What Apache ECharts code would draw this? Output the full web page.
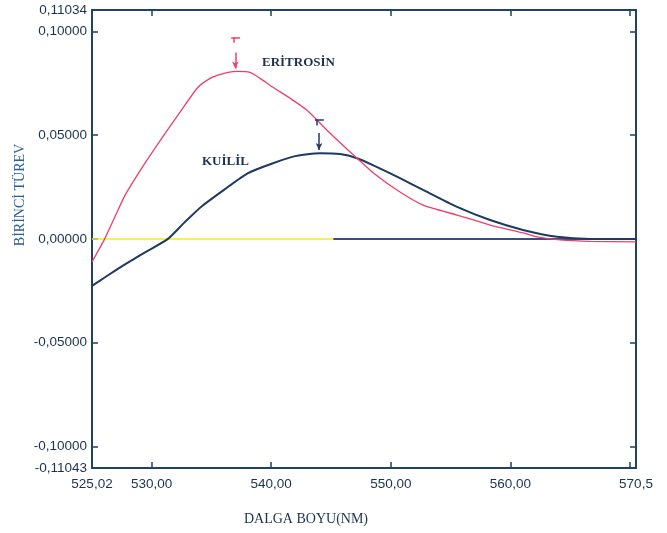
<!DOCTYPE html>
<html>
<head>
<meta charset="utf-8">
<script src="https://cdn.jsdelivr.net/npm/echarts@6/dist/echarts.min.js"></script>
<style>
  html, body { margin: 0; padding: 0; background: #ffffff; }
  #chart { width: 667px; height: 533px; }
</style>
</head>
<body>
<div id="chart"></div>
<script>
// Wavelength range (nm) and first-derivative range
const xMin = 525.02, xMax = 570.5;
const yMin = -0.11043, yMax = 0.11034;

// Tick positions and the label texts printed at the axis ends
const xTickValues = [530, 540, 550, 560, 570];
const xLabelValues = [525.02, 530, 540, 550, 560, 570.5];
const xLabelTexts = ['525,02', '530,00', '540,00', '550,00', '560,00', '570,5'];
const yTickValues = [-0.1, -0.05, 0, 0.05, 0.1];
const yLabelValues = [-0.11043, -0.1, -0.05, 0, 0.05, 0.1, 0.11034];
const yLabelTexts = ['-0,11043', '-0,10000', '-0,05000', '0,00000', '0,05000', '0,10000', '0,11034'];

// Erythrosine first-derivative spectrum
const eritrosinX = [525.02, 526.08, 526.94, 527.78, 529.45, 531.12, 532.38, 533.88, 534.89, 535.55, 536.39, 537.14, 538.23, 539.07, 540.15, 541.58, 543.00, 544.67, 546.17, 547.18, 548.68, 550.77, 552.70, 555.54, 558.30, 561.06, 562.23, 564.15, 566.66, 570.5];
const eritrosinY = [-0.0111, 0.0, 0.0107, 0.0210, 0.0365, 0.0508, 0.0611, 0.0731, 0.0774, 0.0790, 0.0803, 0.0808, 0.0803, 0.0774, 0.0731, 0.0678, 0.0620, 0.0524, 0.0442, 0.0389, 0.0312, 0.0226, 0.0163, 0.0115, 0.0067, 0.0029, 0.0010, -0.0005, -0.0012, -0.0014];

// Quinoline yellow first-derivative spectrum
const kuililX = [525.02, 526.11, 527.44, 529.45, 531.37, 532.80, 534.13, 536.14, 538.06, 540.15, 542.0, 544.08, 545.76, 547.18, 548.68, 550.77, 552.70, 555.54, 558.30, 561.06, 563.90, 566.66, 570.5];
const kuililY = [-0.0226, -0.0185, -0.0135, -0.0065, 0.0, 0.0082, 0.0154, 0.0240, 0.0317, 0.0365, 0.0399, 0.0413, 0.0409, 0.0389, 0.0351, 0.0293, 0.0236, 0.0154, 0.0091, 0.0043, 0.0010, 0.0, 0.0];

// Zero baselines
const zeroLineX = [525.02, 570.5];
const zeroLineY = [0, 0];
const baseLineX = [545.2, 570.5];
const baseLineY = [0, 0];

// Peak markers (wavelength, derivative value)
const eritrosinPeak = [537.0, 0.0808];
const kuililPeak = [544.0, 0.0413];

const RED = '#ee3f6c';
const NAVY = '#1d3a62';
const FRAME = '#1f4266';
const TEXT = '#1c3150';

const zip = (xs, ys) => xs.map((x, i) => [x, ys[i]]);
const labelFor = (vals, texts) => v => {
  const i = vals.findIndex(t => Math.abs(t - v) < 1e-6);
  return i >= 0 ? texts[i] : '';
};

// Arrow + bracket marker drawn just above a peak
function peakMarker(peak, color, gaps) {
  const [px, py] = peak;
  return {
    silent: true,
    animation: false,
    symbol: ['none', 'none'],
    lineStyle: { color: color, width: 1.5, type: 'solid' },
    label: { show: false },
    data: [
      [{ coord: [px, py + gaps.arrowTop], symbol: 'none' },
       { coord: [px, py + gaps.arrowEnd], symbol: 'arrow', symbolSize: [5, 7] }],
      [{ coord: [px - 0.35, py + gaps.bar] }, { coord: [px + 0.4, py + gaps.bar] }],
      [{ coord: [px - 0.15, py + gaps.bar] }, { coord: [px - 0.15, py + gaps.bar - 0.0025] }]
    ]
  };
}

const chart = echarts.init(document.getElementById('chart'), null, { renderer: 'canvas' });

const axisText = { color: TEXT, fontFamily: 'Liberation Sans, Arial, sans-serif', fontSize: 13.5 };
const titleFont = '14px "Liberation Serif", "DejaVu Serif", serif';

chart.setOption({
  animation: false,
  backgroundColor: '#ffffff',
  grid: { left: 92, right: 31, top: 10, bottom: 65, containLabel: false },
  xAxis: [
    {
      type: 'value', position: 'bottom', min: xMin, max: xMax,
      axisLine: { show: true, onZero: false, lineStyle: { color: FRAME, width: 2 } },
      axisTick: { show: true, inside: true, length: 6, customValues: xTickValues, lineStyle: { color: FRAME, width: 1.5 } },
      axisLabel: Object.assign({ customValues: xLabelValues, margin: 9, formatter: labelFor(xLabelValues, xLabelTexts) }, axisText),
      splitLine: { show: false }
    },
    {
      type: 'value', position: 'top', min: xMin, max: xMax,
      axisLine: { show: true, onZero: false, lineStyle: { color: FRAME, width: 2 } },
      axisTick: { show: true, inside: true, length: 6, customValues: xTickValues, lineStyle: { color: FRAME, width: 1.5 } },
      axisLabel: { show: false },
      splitLine: { show: false }
    }
  ],
  yAxis: [
    {
      type: 'value', position: 'left', min: yMin, max: yMax,
      axisLine: { show: true, onZero: false, lineStyle: { color: FRAME, width: 2 } },
      axisTick: { show: true, inside: true, length: 6, customValues: yTickValues, lineStyle: { color: FRAME, width: 1.5 } },
      axisLabel: Object.assign({ customValues: yLabelValues, margin: 5, formatter: labelFor(yLabelValues, yLabelTexts) }, axisText),
      splitLine: { show: false }
    },
    {
      type: 'value', position: 'right', min: yMin, max: yMax,
      axisLine: { show: true, onZero: false, lineStyle: { color: FRAME, width: 2 } },
      axisTick: { show: true, inside: true, length: 6, customValues: yTickValues, lineStyle: { color: FRAME, width: 1.5 } },
      axisLabel: { show: false },
      splitLine: { show: false }
    }
  ],
  series: [
    {
      name: 'zero', type: 'line', showSymbol: false, silent: true,
      data: zip(zeroLineX, zeroLineY),
      lineStyle: { color: '#f2ec1c', width: 1.5 }, z: 1
    },
    {
      name: 'base', type: 'line', showSymbol: false, silent: true,
      data: zip(baseLineX, baseLineY),
      lineStyle: { color: '#3a4a8c', width: 2 }, z: 2
    },
    {
      name: 'KUİLİL', type: 'line', showSymbol: false, smooth: 0.2,
      data: zip(kuililX, kuililY),
      lineStyle: { color: NAVY, width: 2 }, z: 3,
      markLine: peakMarker(kuililPeak, NAVY, { arrowTop: 0.0097, arrowEnd: 0.0016, bar: 0.0159 })
    },
    {
      name: 'ERİTROSİN', type: 'line', showSymbol: false, smooth: 0.2,
      data: zip(eritrosinX, eritrosinY),
      lineStyle: { color: RED, width: 1.3 }, z: 4,
      markLine: peakMarker(eritrosinPeak, RED, { arrowTop: 0.0091, arrowEnd: 0.0014, bar: 0.0163 })
    }
  ],
  graphic: [
    {
      type: 'text', left: 262, top: 56,
      style: { text: 'ERİTROSİN', fill: TEXT, font: 'bold 13px "Liberation Serif", "DejaVu Serif", serif' }
    },
    {
      type: 'text', left: 202, top: 155,
      style: { text: 'KUİLİL', fill: TEXT, font: 'bold 13px "Liberation Serif", "DejaVu Serif", serif' }
    },
    {
      type: 'text', x: 306, y: 519,
      style: { text: 'DALGA BOYU(NM)', fill: TEXT, align: 'center', verticalAlign: 'middle', font: titleFont }
    },
    {
      type: 'text', x: 20, y: 195, rotation: Math.PI / 2,
      style: { text: 'BİRİNCİ TÜREV', fill: '#2c5d97', align: 'center', verticalAlign: 'middle', font: titleFont }
    }
  ]
});
</script>
</body>
</html>
